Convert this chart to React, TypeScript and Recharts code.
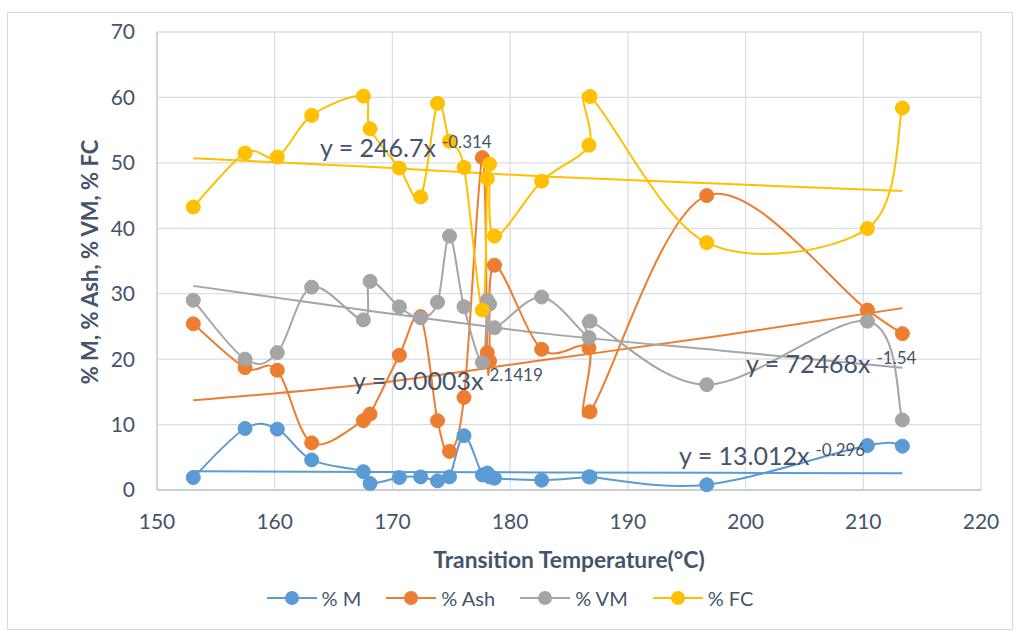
import React from "react";
import { LineChart, Line, XAxis, YAxis, CartesianGrid } from "recharts";

// transition temperature (°C) of each sample
const temps = [
  153.08, 157.48, 160.22, 163.14, 167.53, 168.1, 170.59, 172.4, 173.83, 174.85,
  176.08, 177.64, 178.06, 178.25, 178.67, 182.68, 186.7, 186.79, 196.7, 210.35, 213.32,
];
const moisture = [
  1.9, 9.4, 9.3, 4.6, 2.8, 1.0, 1.9, 2.0, 1.4, 2.0, 8.3, 2.3, 2.6, 2.0, 1.8, 1.5, 2.0, 2.0, 0.8, 6.8, 6.7,
];
const ash = [
  25.4, 18.7, 18.3, 7.2, 10.6, 11.6, 20.6, 26.5, 10.6, 5.9, 14.15, 50.8, 21.0, 19.7, 34.35, 21.5, 21.7,
  11.95, 45.0, 27.5, 23.9,
];
const volatile = [
  29.0, 20.0, 21.0, 31.0, 26.0, 31.9, 28.0, 26.3, 28.7, 38.8, 28.0, 19.5, 29.0, 28.4, 24.8, 29.5, 23.3,
  25.8, 16.1, 25.8, 10.7,
];
const fixedCarbon = [
  43.25, 51.5, 50.9, 57.25, 60.2, 55.2, 49.2, 44.8, 59.1, 53.3, 49.3, 27.5, 47.6, 49.8, 38.8, 47.2, 52.7,
  60.15, 37.8, 39.95, 58.4,
];

// power trendlines
const trendTemps = [153.08, 168, 183, 198, 213.32];
const trendM = [2.85, 2.75, 2.68, 2.62, 2.57];
const trendAsh = [13.7, 16.2, 19.9, 23.6, 27.8];
const trendVM = [31.2, 27.4, 23.9, 21.3, 18.7];
const trendFC = [50.7, 49.4, 47.9, 46.8, 45.7];

const xTicks = [150, 160, 170, 180, 190, 200, 210, 220];
const yTicks = [0, 10, 20, 30, 40, 50, 60, 70];

const rows = temps.map((t, i) => ({
  t,
  m: moisture[i],
  ash: ash[i],
  vm: volatile[i],
  fc: fixedCarbon[i],
}));
const trendRows = trendTemps.map((t, i) => ({
  t,
  m: trendM[i],
  ash: trendAsh[i],
  vm: trendVM[i],
  fc: trendFC[i],
}));

const series = [
  { key: "m", name: "% M", color: "#5B9BD5" },
  { key: "ash", name: "% Ash", color: "#ED7D31" },
  { key: "vm", name: "% VM", color: "#A5A5A5" },
  { key: "fc", name: "% FC", color: "#FFC000" },
];

const textColor = "#44546A";

// excel-like smoothed line (uniform catmull-rom)
const smooth = (context: any) => {
  let pts: number[][] = [];
  return {
    areaStart() {},
    areaEnd() {},
    lineStart() {
      pts = [];
    },
    point(x: number, y: number) {
      pts.push([+x, +y]);
    },
    lineEnd() {
      if (!pts.length) return;
      context.moveTo(pts[0][0], pts[0][1]);
      for (let i = 0; i < pts.length - 1; i++) {
        const p0 = pts[i - 1] || pts[i];
        const p1 = pts[i];
        const p2 = pts[i + 1];
        const p3 = pts[i + 2] || p2;
        context.bezierCurveTo(
          p1[0] + (p2[0] - p0[0]) / 6,
          p1[1] + (p2[1] - p0[1]) / 6,
          p2[0] - (p3[0] - p1[0]) / 6,
          p2[1] - (p3[1] - p1[1]) / 6,
          p2[0],
          p2[1]
        );
      }
    },
  };
};

const equations = [
  { main: "y = 246.7x", exp: "-0.314", x: 312, y: 144 },
  { main: "y = 0.0003x", exp: "2.1419", x: 345, y: 376.5 },
  { main: "y = 72468x", exp: "-1.54", x: 738, y: 360 },
  { main: "y = 13.012x", exp: "-0.296", x: 671, y: 452 },
];

const App = () => {
  return (
    <div
      style={{
        position: "absolute",
        left: 7,
        top: 12,
        width: 1004,
        height: 616,
        border: "1px solid #d9d9d9",
        background: "#fff",
        fontFamily: "Lato, sans-serif",
      }}
    >
      <LineChart width={1004} height={616} data={rows} margin={{ top: 19, right: 31, bottom: 0, left: 0 }}>
        <CartesianGrid stroke="#d9dee5" strokeWidth={1.3} />
        <XAxis
          type="number"
          dataKey="t"
          domain={[150, 220]}
          ticks={xTicks}
          height={139}
          tickLine={false}
          tickSize={6}
          tickMargin={18}
          axisLine={{ stroke: "#c3c9d1", strokeWidth: 1.3 }}
          tick={{ fill: textColor, fontSize: 21 }}
        />
        <YAxis
          type="number"
          domain={[0, 70]}
          ticks={yTicks}
          width={149}
          tickLine={false}
          tickSize={6}
          tickMargin={16}
          axisLine={{ stroke: "#c3c9d1", strokeWidth: 1.3 }}
          tick={{ fill: textColor, fontSize: 21 }}
        />
        {series.map((s) => (
          <Line
            key={"trend-" + s.key}
            data={trendRows}
            dataKey={s.key}
            type="monotone"
            stroke={s.color}
            strokeWidth={2}
            dot={false}
            activeDot={false}
            isAnimationActive={false}
            legendType="none"
          />
        ))}
        {series.map((s) => (
          <Line
            key={s.key}
            dataKey={s.key}
            name={s.name}
            type={smooth as any}
            stroke={s.color}
            strokeWidth={2}
            dot={{ r: 7, fill: s.color, stroke: s.color, strokeWidth: 1 }}
            activeDot={false}
            isAnimationActive={false}
          />
        ))}
      </LineChart>

      <svg
        width={1004}
        height={616}
        style={{ position: "absolute", left: 0, top: 0, pointerEvents: "none" }}
      >
        {equations.map((e) => (
          <text key={e.main} x={e.x} y={e.y} fill={textColor} fontSize={25}>
            {e.main}
            <tspan dx={6} dy={-9} fontSize={17}>
              {e.exp}
            </tspan>
          </text>
        ))}
        <text x={561} y={555} textAnchor="middle" fill={textColor} fontSize={22.8} fontWeight="bold">
          Transition Temperature(°C)
        </text>
        <text
          x={0}
          y={0}
          transform="translate(90,249) rotate(-90)"
          textAnchor="middle"
          fill={textColor}
          fontSize={22}
          fontWeight="bold"
        >
          % M, % Ash, % VM, % FC
        </text>
      </svg>

      <div
        style={{
          position: "absolute",
          left: 0,
          top: 573,
          width: 1004,
          height: 24,
          display: "flex",
          justifyContent: "center",
          alignItems: "center",
          gap: 25,
          color: textColor,
          fontSize: 20,
        }}
      >
        {series.map((s) => (
          <div key={s.key} style={{ display: "flex", alignItems: "center", gap: 5 }}>
            <svg width={50} height={16}>
              <line x1={0} y1={8} x2={50} y2={8} stroke={s.color} strokeWidth={2} />
              <circle cx={25} cy={8} r={7} fill={s.color} />
            </svg>
            <span>{s.name}</span>
          </div>
        ))}
      </div>
    </div>
  );
};

export default App;
